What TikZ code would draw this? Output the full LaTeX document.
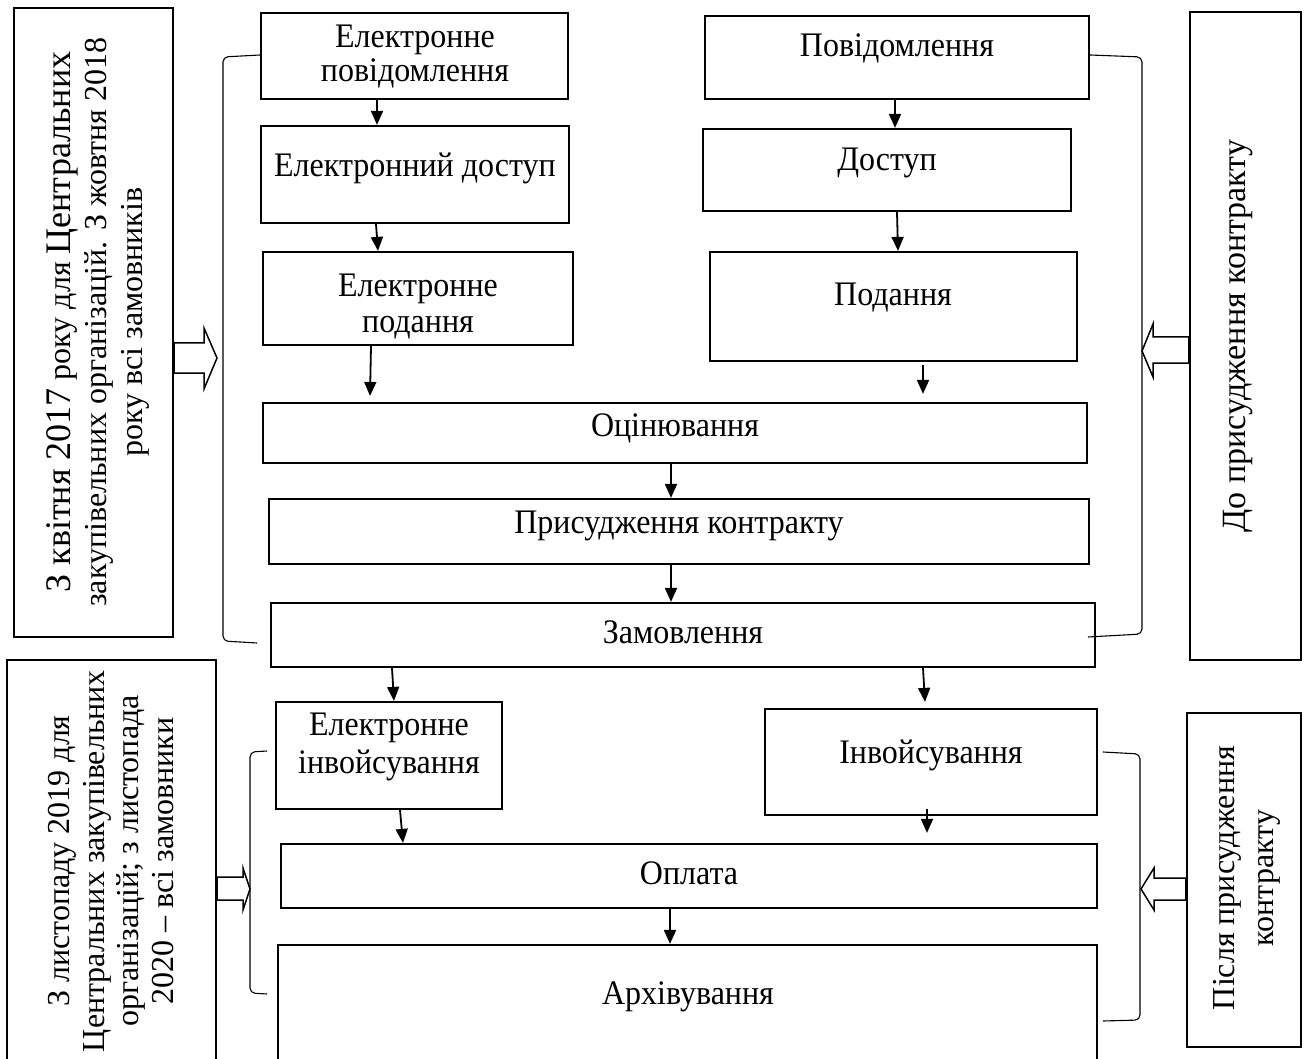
\documentclass[tikz,border=0pt]{standalone}
\usepackage{fontspec}
\setmainfont{Liberation Serif}
\newfontfamily\boxfont[FakeStretch=0.93]{Liberation Serif}
\usetikzlibrary{arrows.meta,calc}
\begin{document}
\begin{tikzpicture}[x=1pt,y=-1pt,
  box/.style={draw, line width=2.2pt, inner sep=0pt},
  txt/.style={font=\boxfont\fontsize{34.4}{36}\selectfont, align=center, inner sep=0pt},
  vtxt/.style={font=\fontsize{32}{36}\selectfont, align=center, inner sep=0pt, rotate=90},
  arr/.style={line width=1.8pt, -{Triangle[length=14pt,width=12pt]}},
  brk/.style={line width=1.1pt, rounded corners=5pt},
  hollow/.style={draw, line width=1.5pt, fill=white, line join=miter}
]
\useasboundingbox (0,0) rectangle (1304,1059);
\clip (0,0) rectangle (1304,1059);

% side text boxes
\node[box, minimum width=159pt, minimum height=629pt] (lt) at (93.5,322.5) {};
\node[vtxt] (ltt) at (98,322) {{\fontsize{36}{36}\selectfont З квітня 2017} року для {\fontsize{36}{36}\selectfont Центральних}\\закупівельних організацій. З жовтня 2018\\року всі замовників};
\node[box, minimum width=111pt, minimum height=648pt] (rt) at (1245.5,336) {};
\node[vtxt, font=\fontsize{34}{36}\selectfont] (rtt) at (1238,336) {До присудження контракту};
\node[box, minimum width=209pt, minimum height=415pt] (lb) at (111.5,867.5) {};
\node[vtxt, font=\fontsize{32}{34.5}\selectfont] (lbt) at (111,861) {З листопаду 2019 для\\Центральних закупівельних\\організацій; з листопада\\2020 – всі замовники};
\node[box, minimum width=114pt, minimum height=334pt] (rb) at (1244,880) {};
\node[vtxt, font=\fontsize{32}{39}\selectfont] (rbt) at (1247,878) {Після присудження\\контракту};

% main flow boxes
\node[box, minimum width=307pt, minimum height=86pt] (epov) at (414.5,56) {};
\node[txt, font=\boxfont\fontsize{34.4}{34}\selectfont] (epovt) at (415,57) {Електронне\\повідомлення};
\node[box, minimum width=308pt, minimum height=97pt] (edost) at (415,174.5) {};
\node[txt, anchor=base] (edostt) at (415,177) {Електронний доступ};
\node[box, minimum width=310pt, minimum height=93pt] (epod) at (418,298.5) {};
\node[txt] (epodt) at (418,307) {Електронне\\подання};

\node[box, minimum width=384pt, minimum height=83pt] (pov) at (897,57.5) {};
\node[txt, anchor=base] (povt) at (897,57) {Повідомлення};
\node[box, minimum width=368pt, minimum height=82pt] (dost) at (887,170) {};
\node[txt, anchor=base] (dostt) at (887,171) {Доступ};
\node[box, minimum width=367pt, minimum height=109pt] (pod) at (893.5,306.5) {};
\node[txt, anchor=base] (podt) at (893,306) {Подання};

\node[box, minimum width=824pt, minimum height=60pt] (ots) at (675,433) {};
\node[txt, anchor=base] (otst) at (675,436) {Оцінювання};
\node[box, minimum width=820pt, minimum height=65pt] (prys) at (679,531.5) {};
\node[txt, anchor=base] (pryst) at (679,533) {Присудження контракту};
\node[box, minimum width=824pt, minimum height=64pt] (zam) at (683,635) {};
\node[txt, anchor=base] (zamt) at (683,643) {Замовлення};

\node[box, minimum width=226pt, minimum height=107pt] (einv) at (389,755.5) {};
\node[txt, font=\boxfont\fontsize{34.4}{38}\selectfont] (einvt) at (389,747) {Електронне\\інвойсування};
\node[box, minimum width=332pt, minimum height=106pt] (inv) at (931,762) {};
\node[txt, anchor=base] (invt) at (931,763) {Інвойсування};
\node[box, minimum width=816pt, minimum height=64pt] (opl) at (689,876) {};
\node[txt, anchor=base] (oplt) at (689,884) {Оплата};
\node[box, minimum width=819pt, minimum height=130pt] (arkh) at (687.5,1010) {};
\node[txt, anchor=base] (arkht) at (688,1004) {Архівування};

% flow arrows
\draw[arr] (377,0 |- epov.south) -- (377,0 |- edost.north);
\draw[arr] (376,0 |- edost.south) -- (378,0 |- epod.north);
\draw[arr] (371,0 |- epod.south) -- ($(370,0 |- ots.north)+(0,-6)$);
\draw[arr] (895,0 |- pov.south) -- (895,0 |- dost.north);
\draw[arr] (897,0 |- dost.south) -- (898,0 |- pod.north);
\draw[arr] ($(923,0 |- pod.south)+(0,3)$) -- ($(923,0 |- ots.north)+(0,-8)$);
\draw[arr] (671,0 |- ots.south) -- (671,0 |- prys.north);
\draw[arr] (671,0 |- prys.south) -- (671,0 |- zam.north);
\draw[arr] (392,0 |- zam.south) -- (394,0 |- einv.north);
\draw[arr] (923,0 |- zam.south) -- ($(925,0 |- inv.north)+(0,-6)$);
\draw[arr] (400,0 |- einv.south) -- (403,0 |- opl.north);
\draw[arr] ($(927,0 |- inv.south)+(0,-7)$) -- ($(927,0 |- opl.north)+(0,-10)$);
\draw[arr] (670,0 |- opl.south) -- (670,0 |- arkh.north);

% brackets
\draw[brk] (epov.west |- 0,55) -- (223,57) -- (223,641) -- (257,643);
\draw[brk] (pov.east |- 0,55) -- (1142,57) -- (1142,634) -- (1088,637);
\draw[brk] (267,751) -- (250,752) -- (250,993) -- (267,994);
\draw[brk] (1103,752) -- (1140,754) -- (1140,1020) -- (1103,1021);

% hollow arrows
\draw[hollow] (lt.east |- 0,343) -- (204,343) -- (204,328) -- (217,358) -- (204,389) -- (204,373) -- (lt.east |- 0,373) -- cycle;
\draw[hollow] (rt.west |- 0,337) -- (1153,337) -- (1153,324) -- (1142,351) -- (1153,377) -- (1153,363) -- (rt.west |- 0,363) -- cycle;
\draw[hollow] (lb.east |- 0,877) -- (243,877) -- (243,868) -- (250,889) -- (243,910) -- (243,900) -- (lb.east |- 0,900) -- cycle;
\draw[hollow] (rb.west |- 0,878) -- (1154,878) -- (1154,868) -- (1141,889) -- (1154,910) -- (1154,900) -- (rb.west |- 0,900) -- cycle;
\end{tikzpicture}
\end{document}
